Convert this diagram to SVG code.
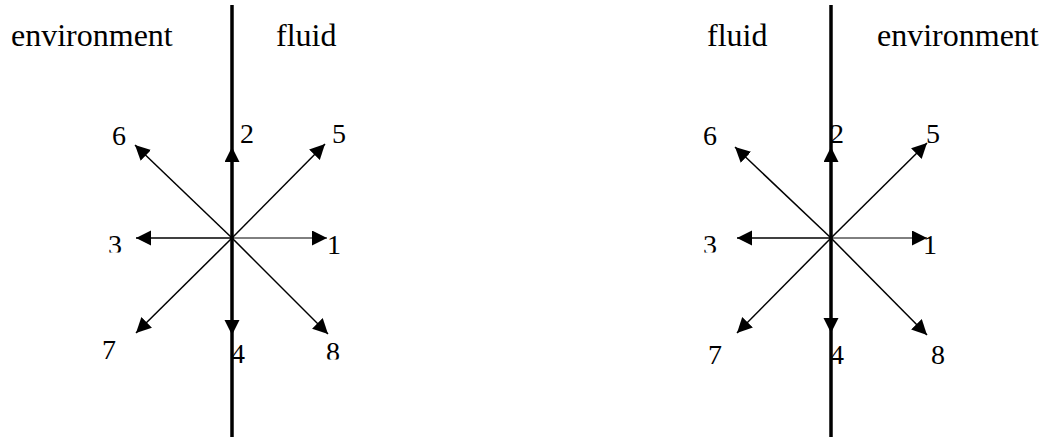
<svg xmlns="http://www.w3.org/2000/svg" width="1044" height="440" viewBox="0 0 1044 440">
<style>
text{font-family:"Liberation Serif","Times New Roman",Times,serif;fill:#000}
.w{font-size:32px}
.d{font-size:28px}
.a{stroke:#000;stroke-width:1.5;fill:none;marker-end:url(#ah)}
.axis{stroke:#000;stroke-width:3.5}
</style>
<defs>
<marker id="ah" markerUnits="userSpaceOnUse" markerWidth="16" markerHeight="16" refX="15" refY="7.5" orient="auto">
<path d="M0,0 L15,7.5 L0,15 Z" fill="#000"/>
</marker>
<clipPath id="c3l"><rect x="100" y="220" width="40" height="32.5"/></clipPath>
<clipPath id="c3r"><rect x="690" y="220" width="40" height="32.5"/></clipPath>
<clipPath id="c8l"><rect x="320" y="330" width="40" height="29.5"/></clipPath>
</defs>
<g id="left">
<line class="axis" x1="232" y1="5" x2="232" y2="437"/>
<g id="left-connectors">
<line class="a" x1="232" y1="238" x2="327" y2="238" style="stroke-width:1"/>
<line class="a" x1="232" y1="238" x2="232" y2="147"/>
<line class="a" x1="232" y1="238" x2="136" y2="238"/>
<line class="a" x1="232" y1="238" x2="232" y2="335"/>
<line class="a" x1="232" y1="238" x2="325" y2="144"/>
<line class="a" x1="232" y1="238" x2="135" y2="145"/>
<line class="a" x1="232" y1="238" x2="136" y2="333"/>
<line class="a" x1="232" y1="238" x2="328" y2="334"/>
</g>
<text class="w" x="11" y="46">environment</text>
<text class="w" x="276" y="46">fluid</text>
<text class="d" x="112" y="145">6</text>
<text class="d" x="240" y="143">2</text>
<text class="d" x="332" y="143">5</text>
<text class="d" x="108" y="254" clip-path="url(#c3l)">3</text>
<text class="d" x="327" y="254">1</text>
<text class="d" x="102" y="359">7</text>
<text class="d" x="231" y="363">4</text>
<text class="d" x="326" y="361" clip-path="url(#c8l)">8</text>
</g>
<g id="right">
<line class="axis" x1="831" y1="5" x2="831" y2="437"/>
<g id="right-connectors">
<line class="a" x1="831" y1="238" x2="927" y2="238" style="stroke-width:1"/>
<line class="a" x1="831" y1="238" x2="831" y2="147"/>
<line class="a" x1="831" y1="238" x2="737" y2="238"/>
<line class="a" x1="831" y1="238" x2="831" y2="333"/>
<line class="a" x1="831" y1="238" x2="927" y2="143"/>
<line class="a" x1="831" y1="238" x2="735" y2="147"/>
<line class="a" x1="831" y1="238" x2="737" y2="333"/>
<line class="a" x1="831" y1="238" x2="927" y2="335"/>
</g>
<text class="w" x="707" y="46">fluid</text>
<text class="w" x="877" y="46">environment</text>
<text class="d" x="703" y="145">6</text>
<text class="d" x="830" y="143">2</text>
<text class="d" x="926" y="143">5</text>
<text class="d" x="703" y="254" clip-path="url(#c3r)">3</text>
<text class="d" x="923" y="254">1</text>
<text class="d" x="708" y="364">7</text>
<text class="d" x="830" y="364">4</text>
<text class="d" x="931" y="364">8</text>
</g>
</svg>
